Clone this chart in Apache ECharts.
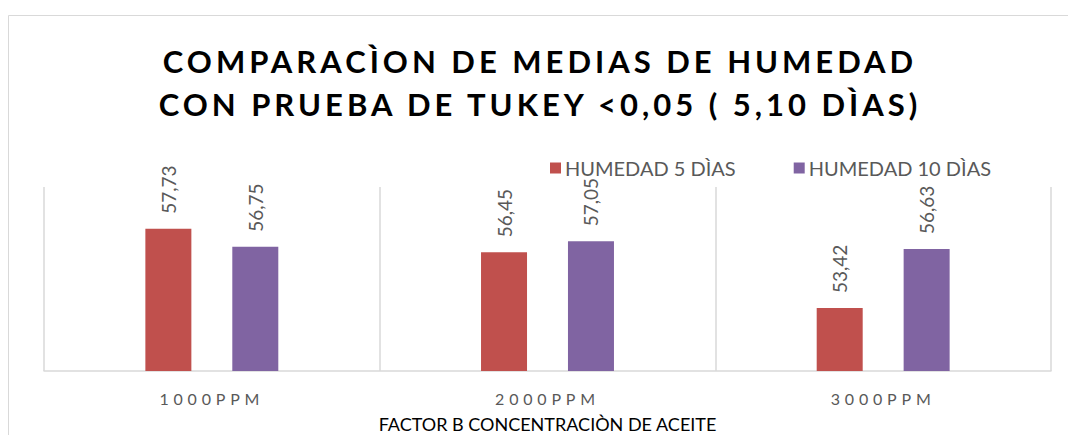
<!DOCTYPE html>
<html>
<head>
<meta charset="utf-8">
<script src="https://cdn.jsdelivr.net/npm/echarts@6/dist/echarts.min.js"></script>
<style>
  html, body { margin: 0; padding: 0; background: #fff; }
  #main { width: 1068px; height: 435px; }
  /* letter spacing for title and category labels (svg renderer) */
  #main text[style*="31px"] { letter-spacing: 4px; }
  #main text[style*="16px"] { letter-spacing: 4.8px; }
</style>
</head>
<body>
<div id="main"></div>
<script>
"use strict";

var categories = ['1000PPM', '2000PPM', '3000PPM'];
var humedad5 = [57.73, 56.45, 53.42];
var humedad10 = [56.75, 57.05, 56.63];
var seriesNames = ['HUMEDAD 5 DÌAS', 'HUMEDAD 10 DÌAS'];

var chart = echarts.init(document.getElementById('main'), null, { renderer: 'svg' });

var valueLabel = {
	show: true,
	position: 'top',
	rotate: 90,
	align: 'left',
	verticalAlign: 'middle',
	distance: 15,
	color: '#595959',
	fontFamily: 'Lato',
	fontSize: 19,
	formatter: function (p) {
		return p.value.toFixed(2).replace('.', ',');
	}
};

var option = {
	animation: false,
	backgroundColor: '#fff',
	color: ['#c0504d', '#8064a2'],
	graphic: [{
		type: 'rect',
		shape: { x: 8.5, y: 15.5, width: 1100, height: 500 },
		style: { fill: 'none', stroke: '#d9d9d9', lineWidth: 1 },
		silent: true
	}],
	title: {
		text: 'COMPARACÌON DE MEDIAS DE HUMEDAD\nCON PRUEBA DE TUKEY <0,05 ( 5,10 DÌAS)',
		left: 535,
		textAlign: 'center',
		top: 34,
		textStyle: {
			fontFamily: 'Lato',
			fontWeight: 'bold',
			fontSize: 31,
			lineHeight: 43,
			color: '#000'
		}
	},
	legend: {
		data: seriesNames,
		left: 545,
		top: 153,
		itemWidth: 11,
		itemHeight: 11,
		itemGap: 58,
		icon: 'rect',
		textStyle: {
			fontFamily: 'Lato',
			fontSize: 20,
			color: '#595959',
			padding: [0, 0, 0, -1]
		}
	},
	grid: {
		left: 44,
		right: 17,
		top: 187,
		bottom: 64,
		outerBoundsMode: 'none',
		containLabel: false
	},
	xAxis: {
		type: 'category',
		data: categories,
		name: 'FACTOR B CONCENTRACIÒN DE ACEITE',
		nameLocation: 'middle',
		nameGap: 44,
		nameTextStyle: {
			fontFamily: 'Lato',
			fontSize: 18,
			color: '#000'
		},
		axisLine: { lineStyle: { color: '#d9d9d9', width: 1.5 } },
		axisTick: { show: false },
		splitLine: { show: true, lineStyle: { color: '#d9d9d9', width: 1.5 } },
		axisLabel: {
			margin: 19,
			fontFamily: 'Lato',
			fontSize: 16,
			color: '#595959'
		}
	},
	yAxis: {
		type: 'value',
		min: 50,
		max: 60,
		show: false,
		splitLine: { show: false }
	},
	series: [{
		name: seriesNames[0],
		type: 'bar',
		data: humedad5,
		barWidth: 46,
		barGap: '89%',
		label: valueLabel
	}, {
		name: seriesNames[1],
		type: 'bar',
		data: humedad10,
		barWidth: 46,
		barGap: '89%',
		label: valueLabel
	}]
};

chart.setOption(option);
</script>
</body>
</html>
